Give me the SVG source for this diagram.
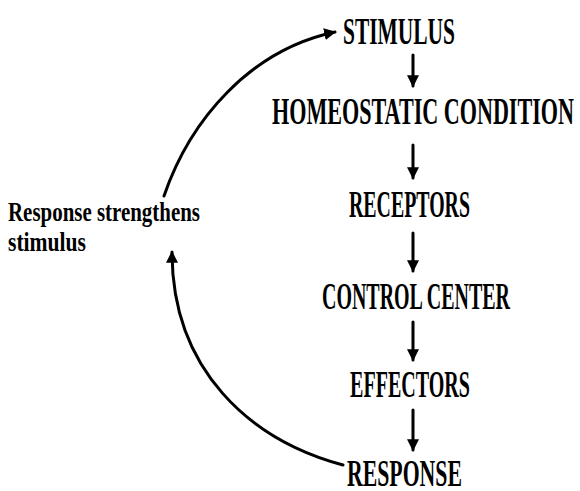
<svg xmlns="http://www.w3.org/2000/svg" width="580" height="491" viewBox="0 0 580 491">
<style>
.t{font-family:"Liberation Serif","Times New Roman",serif;font-weight:bold;fill:#000}
.n{font-size:38px}
.s{font-size:28px}
.c{fill:none;stroke:#000;stroke-width:3;stroke-linecap:round}
</style>
<defs>
<marker id="ah" viewBox="0 0 10 10" refX="9" refY="5" markerWidth="4" markerHeight="4" orient="auto-start-reverse" markerUnits="strokeWidth">
<path d="M0,0 L10,5 L0,10 Z" fill="#000"/>
</marker>
</defs>
<rect width="580" height="491" fill="#fff"/>
<g id="connectors">
<path class="c" d="M413,55 V86" marker-end="url(#ah)"/>
<path class="c" d="M413,145 V178" marker-end="url(#ah)"/>
<path class="c" d="M413,233 V271" marker-end="url(#ah)"/>
<path class="c" d="M413,322 V360" marker-end="url(#ah)"/>
<path class="c" d="M413,410 V450" marker-end="url(#ah)"/>
<path class="c" d="M164,196 C190,120 250,50 335,32" marker-end="url(#ah)"/>
<path class="c" d="M343,465 C250,440 172,370 172,252" marker-end="url(#ah)"/>
</g>
<g id="stimulus"><text class="t n" x="343" y="44" textLength="112" lengthAdjust="spacingAndGlyphs">STIMULUS</text></g>
<g id="homeostatic"><text class="t n" x="272" y="124" textLength="302" lengthAdjust="spacingAndGlyphs">HOMEOSTATIC CONDITION</text></g>
<g id="receptors"><text class="t n" x="349" y="217" textLength="121" lengthAdjust="spacingAndGlyphs">RECEPTORS</text></g>
<g id="control"><text class="t n" x="322" y="309" textLength="188" lengthAdjust="spacingAndGlyphs">CONTROL CENTER</text></g>
<g id="effectors"><text class="t n" x="350" y="397" textLength="120" lengthAdjust="spacingAndGlyphs">EFFECTORS</text></g>
<g id="response"><text class="t n" x="347" y="486" textLength="115" lengthAdjust="spacingAndGlyphs">RESPONSE</text></g>
<g id="label"><text class="t s" x="8" y="221" textLength="192" lengthAdjust="spacingAndGlyphs">Response strengthens</text><text class="t s" x="8" y="251" textLength="78" lengthAdjust="spacingAndGlyphs">stimulus</text></g>
</svg>
